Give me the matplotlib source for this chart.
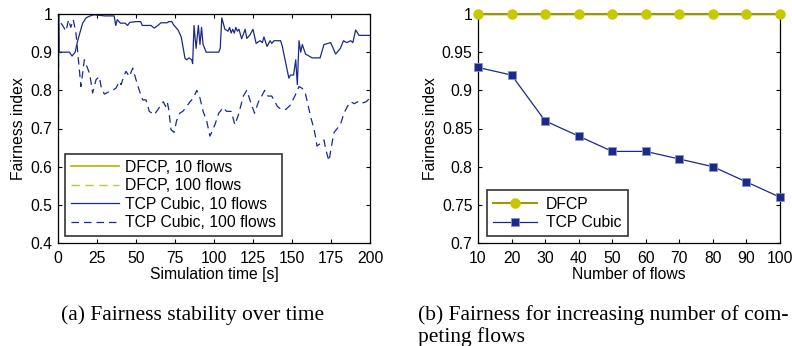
import matplotlib
matplotlib.use('Agg')
import matplotlib.pyplot as plt

# (a) fairness over time
t_dfcp = [0, 0.5, 200]
v_dfcp10 = [0.97, 1.0, 1.0]
v_dfcp100 = [0.97, 1.0, 1.0]

t_cub10 = [0, 0.4, 0.7, 7.3, 9, 11, 12.6, 15.8, 18, 20, 23, 30, 36, 37, 38, 40, 43, 44.6, 46, 50,
           53, 54, 59.6, 61.7, 64, 66, 70, 71, 73, 74, 77, 79, 81.4, 82.5, 84, 85.7, 86.3, 87.2, 88.5, 90,
           91, 92, 93, 95, 103, 104, 105, 107, 109, 110, 111, 112, 113, 114, 115, 116, 117.7, 120, 121, 123,
           125, 127, 129.5, 131, 132, 134, 136, 137, 138.5, 142.7, 143.8, 146, 148, 149, 151, 152.4, 153.4, 154.5, 155.6, 156.6,
           158.7, 163, 168, 170.5, 174.8, 178, 181, 183, 185, 187.6, 189, 190.8, 193, 200]
v_cub10 = [0.3, 1.0, 0.90, 0.90, 0.89, 0.90, 0.93, 0.976, 0.99, 0.994, 0.998, 0.995, 0.995, 0.97, 0.985, 0.976, 0.976, 0.97, 0.978, 0.98,
           0.98, 0.97, 0.97, 0.963, 0.97, 0.977, 0.977, 0.98, 0.98, 0.972, 0.958, 0.94, 0.884, 0.88, 0.885, 0.88, 0.87, 0.97, 0.91, 0.97,
           0.92, 0.965, 0.92, 0.90, 0.90, 0.91, 0.99, 0.96, 0.955, 0.965, 0.95, 0.96, 0.95, 0.965, 0.955, 0.96, 0.935, 0.96, 0.936, 0.945,
           0.96, 0.923, 0.93, 0.925, 0.94, 0.915, 0.93, 0.923, 0.93, 0.93, 0.915, 0.871, 0.832, 0.84, 0.84, 0.88, 0.815, 0.93, 0.90, 0.92,
           0.895, 0.885, 0.885, 0.92, 0.925, 0.895, 0.91, 0.93, 0.925, 0.93, 0.925, 0.958, 0.944, 0.944]

t_cub100 = [0, 0.4, 1, 3, 5.1, 6.8, 8.2, 9.8, 11.5, 13.2, 14.7, 16.9, 18.3, 20.1, 21.1, 22.2, 24.4, 26.5, 27.6, 29.7,
            32.9, 35, 37.2, 39.3, 40.4, 42.5, 43.6, 45.7, 47.9, 50, 52.1, 54.3, 56.4, 58.5, 61.7, 65.4, 67.5, 69, 70, 71,
            72.4, 74.4, 76, 78, 80, 82, 84.6, 86.8, 89, 91, 93, 95.3, 97.4, 98.5, 100.6, 103, 106, 108, 111, 113.4,
            115.6, 118.8, 121, 123, 126, 128.5, 130.6, 132.5, 134.6, 137, 140.6, 143, 146, 148.7, 150, 152.4, 154.5, 156.6, 158.7, 160.9,
            162, 164, 165, 166, 168, 170.5, 171.6, 173.7, 175.8, 177, 179, 181, 183.3, 185.5, 187.6, 190, 192, 194, 197.5, 200]
v_cub100 = [0.3, 0.98, 0.98, 0.97, 0.955, 0.985, 0.965, 0.985, 0.95, 0.875, 0.81, 0.88, 0.865, 0.845, 0.823, 0.793, 0.828, 0.836, 0.81, 0.79,
            0.797, 0.80, 0.806, 0.823, 0.815, 0.84, 0.85, 0.836, 0.858, 0.828, 0.80, 0.775, 0.775, 0.745, 0.736, 0.758, 0.77, 0.758, 0.77, 0.75,
            0.697, 0.69, 0.72, 0.74, 0.745, 0.755, 0.77, 0.78, 0.80, 0.78, 0.745, 0.72, 0.68, 0.69, 0.71, 0.74, 0.755, 0.745, 0.745, 0.71,
            0.735, 0.785, 0.80, 0.775, 0.74, 0.77, 0.785, 0.80, 0.785, 0.785, 0.758, 0.75, 0.75, 0.76, 0.77, 0.79, 0.81, 0.805, 0.79, 0.75,
            0.73, 0.70, 0.68, 0.654, 0.66, 0.67, 0.645, 0.615, 0.665, 0.69, 0.70, 0.71, 0.74, 0.758, 0.77, 0.765, 0.77, 0.765, 0.77, 0.78]

# (b) fairness vs number of flows
flows = [10, 20, 30, 40, 50, 60, 70, 80, 90, 100]
fair_dfcp = [1, 1, 1, 1, 1, 1, 1, 1, 1, 1]
fair_cubic = [0.93, 0.92, 0.86, 0.84, 0.82, 0.82, 0.81, 0.80, 0.78, 0.76]

fs = 11.3
plt.rcParams['font.family'] = ['Liberation Sans', 'DejaVu Sans']
plt.rcParams['font.size'] = fs

yellow = '#c8c800'
olive = '#9a9a00'
navy = '#1a2a8c'

fig = plt.figure(figsize=(7.92, 3.46), dpi=100)
ax1 = fig.add_axes([58/792, 1-243/346, 312/792, 229/346])
ax2 = fig.add_axes([478/792, 1-243/346, 302/792, 229/346])

ax1.plot(t_dfcp, v_dfcp10, color='#b4b400', lw=1.2, label='DFCP, 10 flows')
ax1.plot(t_dfcp, v_dfcp100, color='#c4c43c', lw=1.0, ls=(0, (6, 4)), label='DFCP, 100 flows')
ax1.plot(t_cub10, v_cub10, color=navy, lw=0.9, label='TCP Cubic, 10 flows')
ax1.plot(t_cub100, v_cub100, color=navy, lw=0.9, ls=(0, (6, 4)), label='TCP Cubic, 100 flows')
ax1.set_xlim(0, 200)
ax1.set_ylim(0.4, 1)
ax1.set_xticks([0, 25, 50, 75, 100, 125, 150, 175, 200])
ax1.set_yticks([0.4, 0.5, 0.6, 0.7, 0.8, 0.9, 1])
ax1.set_yticklabels(['0.4', '0.5', '0.6', '0.7', '0.8', '0.9', '1'])
ax1.set_xlabel('Simulation time [s]', labelpad=1)
ax1.set_ylabel('Fairness index', labelpad=3)
leg1 = ax1.legend(loc='lower left', bbox_to_anchor=(0.013, 0.015), frameon=True, fancybox=False,
                  edgecolor='black', handlelength=3.0, borderpad=0.4, labelspacing=0.22, handletextpad=0.4,
                  borderaxespad=0.2, fontsize=fs)
leg1.get_frame().set_linewidth(1.2)

ax2.plot(flows, fair_dfcp, color=olive, lw=1.5, marker='o', ms=6.5, mfc=yellow, mec=yellow,
         clip_on=False, zorder=5, label='DFCP')
ax2.plot(flows, fair_cubic, color=navy, lw=0.9, marker='s', ms=5.5, mfc=navy, mec='#8a94c8', mew=0.6,
         clip_on=False, zorder=5, label='TCP Cubic')
ax2.set_xlim(10, 100)
ax2.set_ylim(0.7, 1)
ax2.set_xticks(flows)
ax2.set_yticks([0.7, 0.75, 0.8, 0.85, 0.9, 0.95, 1])
ax2.set_yticklabels(['0.7', '0.75', '0.8', '0.85', '0.9', '0.95', '1'])
ax2.set_xlabel('Number of flows', labelpad=1)
ax2.set_ylabel('Fairness index', labelpad=3)
leg2 = ax2.legend(loc='lower left', bbox_to_anchor=(0.02, 0.015), frameon=True, fancybox=False,
                  edgecolor='black', handlelength=2.8, borderpad=0.4, labelspacing=0.22, handletextpad=0.55,
                  borderaxespad=0.2, fontsize=fs)
leg2.get_frame().set_linewidth(1.2)

for ax in (ax1, ax2):
    ax.tick_params(direction='in', top=True, right=True, length=3, width=0.8, pad=5.5, labelsize=fs)
    ax.tick_params(axis='y', pad=4)
    for s in ax.spines.values():
        s.set_linewidth(0.9)

fig.text(193/792, 1-320/346, '(a) Fairness stability over time', family='Liberation Serif',
         fontsize=15.5, ha='center', va='baseline')
fig.text(418/792, 1-320/346, '(b) Fairness for increasing number of com-',
         family='Liberation Serif', fontsize=15.5, ha='left', va='baseline')
fig.text(418/792, 1-342/346, 'peting flows',
         family='Liberation Serif', fontsize=15.5, ha='left', va='baseline')

fig.savefig('out.png', dpi=100)
